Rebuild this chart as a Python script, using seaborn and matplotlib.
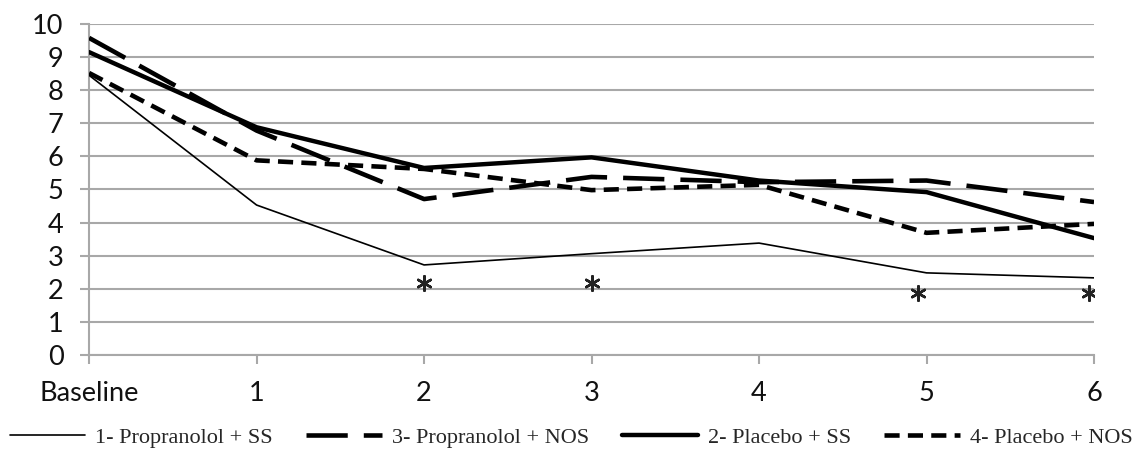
import pandas as pd
import numpy as np
import seaborn as sns
import matplotlib.pyplot as plt
from matplotlib.lines import Line2D

# data
visits = ['Baseline', '1', '2', '3', '4', '5', '6']
propranolol_ss = [8.45, 4.53, 2.72, 3.06, 3.38, 2.48, 2.33]
propranolol_nos = [9.58, 6.78, 4.71, 5.38, 5.22, 5.27, 4.62]
placebo_ss = [9.15, 6.88, 5.65, 5.97, 5.27, 4.92, 3.53]
placebo_nos = [8.52, 5.88, 5.62, 4.98, 5.14, 3.69, 3.96]
series_names = ['1- Propranolol + SS', '3- Propranolol + NOS',
                '2- Placebo + SS', '4- Placebo + NOS']
star_x = [2, 3, 4.95, 5.97]
star_y = [2.18, 2.18, 1.87, 1.87]

rows = []
for name, vals in zip(series_names, [propranolol_ss, propranolol_nos, placebo_ss, placebo_nos]):
    for i, v in enumerate(vals):
        rows.append({'visit': i, 'score': v, 'group': name})
df = pd.DataFrame(rows)

sns.set_style('white')
plt.rcParams['font.family'] = ['Lato', 'DejaVu Sans']

fig = plt.figure(figsize=(11.42, 4.58), dpi=100)
ax = fig.add_axes([0.078, 0.225, 0.880, 0.7226])

palette = {n: 'black' for n in series_names}
sizes = {series_names[0]: 1.2, series_names[1]: 3.3,
         series_names[2]: 3.2, series_names[3]: 3.3}
dashes = {series_names[0]: '', series_names[1]: (9, 3.5),
          series_names[2]: '', series_names[3]: (3.3, 1.8)}

sns.lineplot(data=df, x='visit', y='score', hue='group', style='group', size='group',
             palette=palette, sizes=sizes, dashes=dashes, legend=False, ax=ax, zorder=3)

# significance markers
ax.scatter(star_x, star_y, marker=(6, 2, 0), s=110, color='#222222', linewidths=1.8, zorder=4)

ax.set_xlim(0, 6)
ax.set_ylim(0, 10)
ax.set_yticks(range(0, 11))
ax.set_xticks(range(len(visits)))
ax.set_xticklabels(visits)
ax.grid(axis='y', color='#a8a8a8', linewidth=1.5, zorder=0)
ax.grid(axis='x', visible=False)
for s in ['top', 'right']:
    ax.spines[s].set_visible(False)
for s in ['left', 'bottom']:
    ax.spines[s].set_color('#a8a8a8')
    ax.spines[s].set_linewidth(1.5)
ax.tick_params(axis='y', length=6.5, width=1.5, color='#a8a8a8', labelsize=19.5,
               labelcolor='#111111', pad=12, left=True)
ax.tick_params(axis='x', length=6.5, width=1.5, color='#a8a8a8', labelsize=19.5,
               labelcolor='#111111', pad=12, bottom=True)
ax.set_xlabel('')
ax.set_ylabel('')

handles = [Line2D([], [], color='black', linewidth=sizes[n],
                  linestyle=(0, dashes[n]) if dashes[n] else '-') for n in series_names]
fig.legend(handles, series_names, loc='center', bbox_to_anchor=(0.5, 0.045), ncol=4,
           frameon=False, handlelength=3.4, handletextpad=0.45, columnspacing=1.5,
           prop={'family': 'Liberation Serif', 'size': 16})

plt.savefig('out.png', dpi=100)
